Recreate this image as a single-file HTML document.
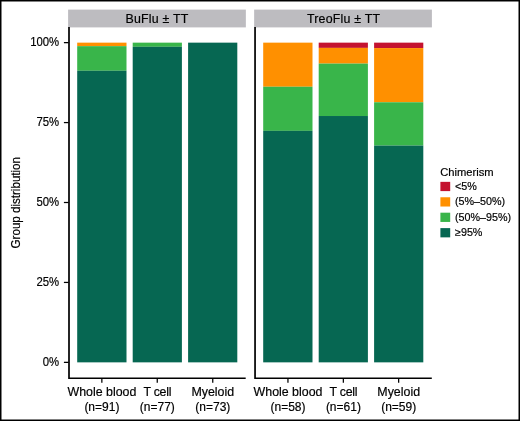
<!DOCTYPE html>
<html lang="en"><head><meta charset="utf-8"><title>Chimerism group distribution</title>
<style>html,body{margin:0;padding:0;background:#fff}svg{display:block}text{stroke:#000;stroke-width:0.18px}</style></head>
<body>
<svg width="520" height="421" viewBox="0 0 520 421" font-family="Liberation Sans, Arial, sans-serif" fill="#000">
<rect x="0" y="0" width="520" height="421" fill="#000"/>
<rect x="1.5" y="1.5" width="517" height="418" fill="#fff"/>
<rect x="68.1" y="9.6" width="177.75" height="17.8" fill="#bdbcc0"/>
<rect x="254.15" y="9.6" width="177.75" height="17.8" fill="#bdbcc0"/>
<text x="157" y="22.8" font-size="12.4" letter-spacing="0.2" text-anchor="middle">BuFlu ± TT</text>
<text x="343.6" y="22.8" font-size="12.4" letter-spacing="0.2" text-anchor="middle">TreoFlu ± TT</text>
<rect x="77.20" y="42.65" width="49.30" height="3.51" fill="#ff9000"/>
<rect x="77.20" y="46.16" width="49.30" height="24.59" fill="#39b54a"/>
<rect x="77.20" y="70.76" width="49.30" height="291.59" fill="#066752"/>
<rect x="132.70" y="42.65" width="49.20" height="4.15" fill="#39b54a"/>
<rect x="132.70" y="46.80" width="49.20" height="315.55" fill="#066752"/>
<rect x="188.10" y="42.65" width="49.20" height="319.70" fill="#066752"/>
<rect x="263.20" y="42.65" width="49.30" height="44.10" fill="#ff9000"/>
<rect x="263.20" y="86.75" width="49.30" height="44.10" fill="#39b54a"/>
<rect x="263.20" y="130.84" width="49.30" height="231.51" fill="#066752"/>
<rect x="318.70" y="42.65" width="49.20" height="5.24" fill="#c4122f"/>
<rect x="318.70" y="47.89" width="49.20" height="15.72" fill="#ff9000"/>
<rect x="318.70" y="63.61" width="49.20" height="52.41" fill="#39b54a"/>
<rect x="318.70" y="116.02" width="49.20" height="246.33" fill="#066752"/>
<rect x="374.10" y="42.65" width="49.20" height="5.42" fill="#c4122f"/>
<rect x="374.10" y="48.07" width="49.20" height="54.19" fill="#ff9000"/>
<rect x="374.10" y="102.26" width="49.20" height="43.35" fill="#39b54a"/>
<rect x="374.10" y="145.60" width="49.20" height="216.75" fill="#066752"/>
<g stroke="#000" stroke-width="1.7" fill="none">
<path d="M69.0 27V378.25H245.7"/>
<path d="M255.05 27V378.25H431.8"/>
</g>
<g stroke="#000" stroke-width="1.25" fill="none">
<path d="M63.9 362.35H68.6"/>
<path d="M63.9 282.43H68.6"/>
<path d="M63.9 202.50H68.6"/>
<path d="M63.9 122.58H68.6"/>
<path d="M63.9 42.65H68.6"/>
<path d="M101.85 378.4V382.8"/>
<path d="M157.25 378.4V382.8"/>
<path d="M212.75 378.4V382.8"/>
<path d="M287.95 378.4V382.8"/>
<path d="M343.35 378.4V382.8"/>
<path d="M398.65 378.4V382.8"/>
</g>
<text transform="translate(59.1 366.10) scale(0.945 1)" font-size="12" text-anchor="end">0%</text>
<text transform="translate(59.1 286.18) scale(0.945 1)" font-size="12" text-anchor="end">25%</text>
<text transform="translate(59.1 206.25) scale(0.945 1)" font-size="12" text-anchor="end">50%</text>
<text transform="translate(59.1 126.33) scale(0.945 1)" font-size="12" text-anchor="end">75%</text>
<text transform="translate(59.1 46.40) scale(0.945 1)" font-size="12" text-anchor="end">100%</text>
<text x="101.9" y="396.4" font-size="12.4" text-anchor="middle">Whole blood</text>
<text x="101.9" y="411.1" font-size="12" text-anchor="middle">(n=91)</text>
<text x="157.3" y="396.4" font-size="12.4" letter-spacing="-0.3" text-anchor="middle">T cell</text>
<text x="157.3" y="411.1" font-size="12" text-anchor="middle">(n=77)</text>
<text x="212.8" y="396.4" font-size="12.4" text-anchor="middle">Myeloid</text>
<text x="212.8" y="411.1" font-size="12" text-anchor="middle">(n=73)</text>
<text x="288.0" y="396.4" font-size="12.4" text-anchor="middle">Whole blood</text>
<text x="288.0" y="411.1" font-size="12" text-anchor="middle">(n=58)</text>
<text x="343.4" y="396.4" font-size="12.4" letter-spacing="-0.3" text-anchor="middle">T cell</text>
<text x="343.4" y="411.1" font-size="12" text-anchor="middle">(n=61)</text>
<text x="398.7" y="396.4" font-size="12.4" text-anchor="middle">Myeloid</text>
<text x="398.7" y="411.1" font-size="12" text-anchor="middle">(n=59)</text>
<text transform="translate(20.45 202.7) rotate(-90) scale(0.852 1)" font-size="13.6" text-anchor="middle">Group distribution</text>
<text x="440.2" y="175.5" font-size="11.2">Chimerism</text>
<rect x="440.4" y="181.85" width="9.8" height="9.25" fill="#c4122f"/>
<text x="455" y="189.90" font-size="10.75">&lt;5%</text>
<rect x="440.4" y="197.27" width="9.8" height="9.25" fill="#ff9000"/>
<text x="455" y="205.32" font-size="10.75">(5%–50%)</text>
<rect x="440.4" y="212.69" width="9.8" height="9.25" fill="#39b54a"/>
<text x="455" y="220.74" font-size="10.75">(50%–95%)</text>
<rect x="440.4" y="228.11" width="9.8" height="9.25" fill="#066752"/>
<text x="455" y="236.16" font-size="10.75">≥95%</text>
</svg>
</body></html>
